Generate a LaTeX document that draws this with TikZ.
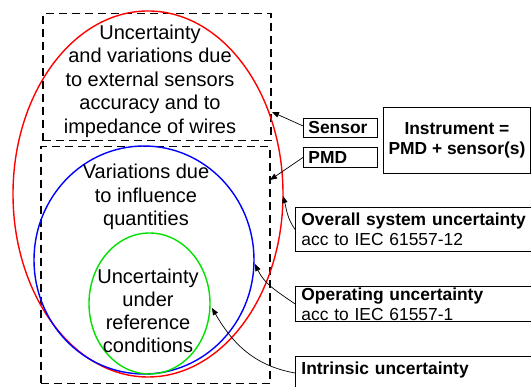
\documentclass[tikz,border=0pt]{standalone}
\usepackage{fontspec}
\setmainfont{Liberation Sans}
\usetikzlibrary{arrows.meta,shapes.geometric}
\definecolor{grn}{RGB}{0,225,0}
\begin{document}
\begin{tikzpicture}[x=1pt,y=1pt,
  dashbox/.style={draw, dash pattern=on 8pt off 5pt, line width=1.5pt, inner sep=0pt, anchor=north west},
  ring/.style={draw, ellipse, line width=1.4pt, inner sep=0pt},
  bigtext/.style={font=\fontsize{20}{23.5}\selectfont, align=center, inner sep=0pt},
  lbl/.style={draw, line width=0.9pt, font=\fontsize{17.4}{20}\selectfont, inner sep=0pt, anchor=north west, align=left},
  arr/.style={-{Triangle[length=7pt,width=5.5pt]}, line width=0.7pt}]
\useasboundingbox (0,0) rectangle (531,387);
% dashed boxes
\node[dashbox, minimum width=228, minimum height=127] (topbox) at (42,374) {};
\node[dashbox, minimum width=229, minimum height=237] (botbox) at (40,241) {};
% ellipses
\node[ring, red, minimum width=270, minimum height=366] (redE) at (148,193) {};
\node[ring, blue, minimum width=220, minimum height=228] (blueE) at (144,127) {};
\node[ring, grn, minimum width=121, minimum height=141] (greenE) at (149.5,83.5) {};
% texts in ellipses
\node[bigtext] (t1) at (150,306) {Uncertainty\\and variations due\\to external sensors\\accuracy and to\\impedance of wires};
\node[bigtext] (t2) at (146,190) {Variations due\\to influence\\quantities};
\node[bigtext, font=\fontsize{20}{23}\selectfont] (t3) at (148,76) {Uncertainty\\under\\reference\\conditions};
% labels
\node[lbl, minimum width=74, minimum height=19, text width=64, inner xsep=5] (sensor) at (303,269) {\textbf{Sensor}};
\node[lbl, minimum width=74, minimum height=20, text width=64, inner xsep=5] (pmd) at (303,240) {\textbf{PMD}};
\node[lbl, align=center, minimum width=147, minimum height=66] (instr) at (383,280) {\textbf{Instrument =}\\\textbf{PMD + sensor(s)}};
\node[lbl, minimum height=44, text width=240, inner xsep=6] (overall) at (295,180) {\textbf{Overall system uncertainty}\\acc to IEC 61557-12};
\node[lbl, minimum height=35, text width=240, inner xsep=6] (oper) at (295,101) {\textbf{Operating uncertainty}\\acc to IEC 61557-1};
\node[lbl, minimum height=44, text width=240, inner xsep=6] (intr) at (295,31) {\textbf{Intrinsic uncertainty}\\\mbox{}};
% arrow tips
\coordinate (p1) at (272,275);
\coordinate (p2) at (270,207);
\coordinate (p3) at (283,191);
\coordinate (p4) at (255,123);
\coordinate (p5) at (212,79);
% connectors
\draw[arr] ([yshift=2pt]sensor.west) -- (p1);
\draw[arr] (pmd.west) -- (p2);
\draw[arr] (overall.west) to[out=125, in=-75] (p3);
\draw[arr] (oper.west) to[out=145, in=-65] (p4);
\draw[arr] ([yshift=-17pt]intr.north west) to[out=170, in=-60] (p5);
\end{tikzpicture}
\end{document}
